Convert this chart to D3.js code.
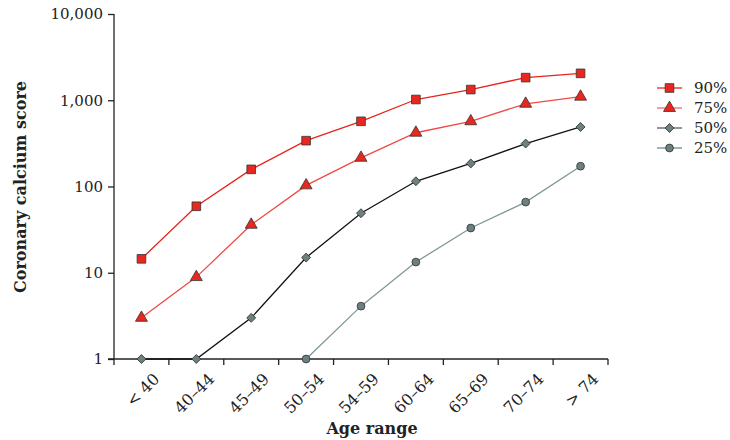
<!DOCTYPE html>
<html lang="en">
<head>
	<meta charset="UTF-8">
	<script src="https://d3js.org/d3.v7.min.js"></script>
	<title>Coronary calcium score by age range</title>
	<style type="text/css">
		body{ margin: 0; background: #fff; }
		text{ font-family: "DejaVu Serif", serif; fill: #222; }
		.axis path, .axis line{ stroke: #222; stroke-width: 1.3; }
		.title{ font-weight: bold; font-size: 16px; }
	</style>
</head>
<body onload="main()">
	<svg width="730" height="440"></svg>
</body>
	<script>
	var ages = ["< 40", "40\u201344", "45\u201349", "50\u201354", "54\u201359", "60\u201364", "65\u201369", "70\u201374", "> 74"];
	var p90 = [14.5, 59, 158, 340, 570, 1020, 1330, 1830, 2050];
	var p75 = [3, 8.9, 36, 103, 215, 420, 570, 910, 1100];
	var p50 = [1, 1, 3, 15, 49, 115, 185, 315, 490];
	var p25 = [null, null, null, 1, 4.1, 13.3, 33, 66, 172];
	var yTicks = [1, 10, 100, 1000, 10000];

	function main() {
		var svg = d3.select("svg");

		var xScale = d3.scaleBand().domain(ages).range([114, 608]).padding(0),
			yScale = d3.scaleLog().domain([1, 10000]).range([359, 14]);

		// diamond = square turned 45 degrees
		var series = [
			{ name: "90%", values: p90, line: "#e8231c", key: "#e8231c", fill: "#e8271f", shape: d3.symbolSquare, size: 75, rot: 0 },
			{ name: "75%", values: p75, line: "#f04a44", key: "#f06a64", fill: "#e8271f", shape: d3.symbolTriangle, size: 62, rot: 0 },
			{ name: "50%", values: p50, line: "#111111", key: "#4f5f5f", fill: "#6b8080", shape: d3.symbolSquare, size: 40, rot: 45 },
			{ name: "25%", values: p25, line: "#7f9995", key: "#6f8a88", fill: "#6b8080", shape: d3.symbolCircle, size: 48, rot: 0 }
		];

		// y axis
		var yAxis = svg.append("g")
			.attr("class", "axis")
			.attr("transform", "translate(114,0)")
			.call(d3.axisLeft(yScale).tickValues(yTicks).tickFormat(d3.format(",")).tickSize(6).tickPadding(5));
		yAxis.selectAll("text").style("font-size", "15px");
		yAxis.select(".domain").attr("d", "M0,14V359");

		// x axis, ticks at band edges
		var xAxis = svg.append("g")
			.attr("class", "axis")
			.attr("transform", "translate(0,359)");
		xAxis.append("line").attr("x1", 108).attr("x2", 608).attr("y1", 0).attr("y2", 0);
		xAxis.selectAll(".tk")
			.data(ages.concat(["end"]))
			.enter().append("line")
			.attr("class", "tk")
			.attr("x1", function(d, i) { return xScale.range()[0] + i * xScale.step(); })
			.attr("x2", function(d, i) { return xScale.range()[0] + i * xScale.step(); })
			.attr("y1", 0).attr("y2", 6);
		xAxis.selectAll(".lbl")
			.data(ages)
			.enter().append("text")
			.attr("class", "lbl")
			.attr("text-anchor", "end")
			.style("font-size", "16px")
			.attr("transform", function(d) {
				return "translate(" + (xScale(d) + xScale.bandwidth() / 2 + 19) + ",21) rotate(-45)";
			})
			.text(function(d) { return d; });

		svg.append("text")
			.attr("class", "title")
			.attr("x", 372).attr("y", 434)
			.attr("text-anchor", "middle")
			.text("Age range");

		svg.append("text")
			.attr("class", "title")
			.attr("transform", "translate(26,187) rotate(-90)")
			.attr("text-anchor", "middle")
			.text("Coronary calcium score");

		var line = d3.line()
			.defined(function(d) { return d != null; })
			.x(function(d, i) { return xScale(ages[i]) + xScale.bandwidth() / 2; })
			.y(function(d) { return yScale(d); });

		series.slice().reverse().forEach(function(s) {
			var g = svg.append("g");
			g.append("path")
				.attr("d", line(s.values))
				.attr("fill", "none")
				.attr("stroke", s.line)
				.attr("stroke-width", 1.3);
			g.selectAll("path.mk")
				.data(s.values.map(function(v, i) { return { v: v, age: ages[i] }; }).filter(function(d) { return d.v != null; }))
				.enter().append("path")
				.attr("class", "mk")
				.attr("d", d3.symbol().type(s.shape).size(s.size))
				.attr("transform", function(d) {
					return "translate(" + (xScale(d.age) + xScale.bandwidth() / 2) + "," + yScale(d.v) + ") rotate(" + s.rot + ")";
				})
				.attr("fill", s.fill)
				.attr("stroke", "#333")
				.attr("stroke-width", 0.8);
		});

		// legend
		var legend = svg.selectAll(".legend")
			.data(series)
			.enter().append("g")
			.attr("class", "legend")
			.attr("transform", function(d, i) { return "translate(657," + (88 + i * 20) + ")"; });
		legend.append("line")
			.attr("x1", 0).attr("x2", 25)
			.attr("stroke", function(d) { return d.key; })
			.attr("stroke-width", 1.3);
		legend.append("path")
			.attr("d", function(d) { return d3.symbol().type(d.shape).size(d.size)(); })
			.attr("transform", function(d) { return "translate(12.5,0) rotate(" + d.rot + ")"; })
			.attr("fill", function(d) { return d.fill; })
			.attr("stroke", "#333")
			.attr("stroke-width", 0.8);
		legend.append("text")
			.attr("x", 37).attr("y", 5)
			.style("font-size", "15px")
			.text(function(d) { return d.name; });
	}
	</script>
</html>
